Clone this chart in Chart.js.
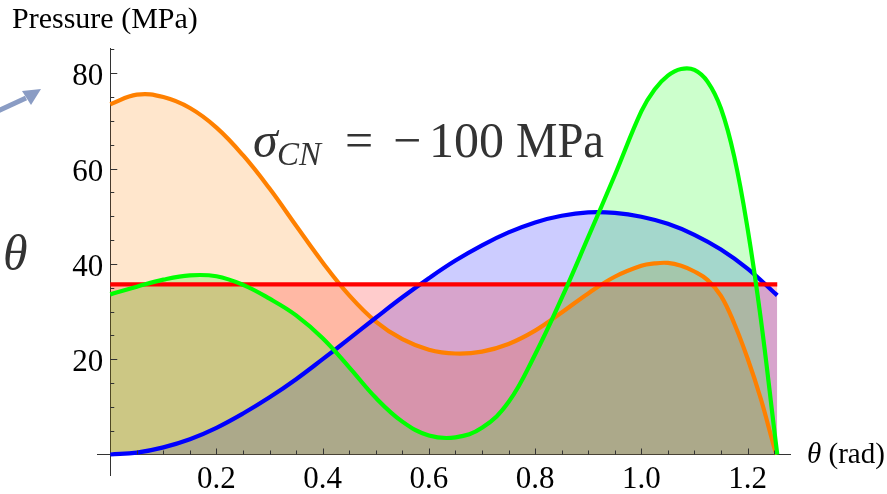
<!DOCTYPE html>
<html>
<head>
<meta charset="utf-8">
<script src="https://cdn.jsdelivr.net/npm/chart.js@4.4.1/dist/chart.umd.min.js"></script>
</head>
<body style="margin:0;background:#ffffff">
<canvas id="warm" width="10" height="10" style="position:absolute;left:-50px;top:-50px"></canvas>
<div style="width:887px;height:494px"><canvas id="chart" width="887" height="494"></canvas></div>
<script>
// Contact pressure around the interface versus angle (sigma_CN = -100 MPa)
const blueTheta = [0, 0.05, 0.1, 0.15, 0.2, 0.25, 0.3, 0.35, 0.4, 0.45, 0.5, 0.55, 0.6, 0.65, 0.7, 0.75, 0.8, 0.85, 0.9, 0.95, 1.0, 1.05, 1.1, 1.15, 1.2, 1.25, 1.256];
const blueVals  = [0, 0.4, 1.5, 3.2, 5.6, 8.6, 12.0, 15.8, 20.0, 24.3, 28.7, 33.0, 37.0, 40.7, 43.9, 46.6, 48.7, 50.1, 50.8, 50.7, 49.9, 48.4, 46.1, 43.0, 39.0, 34.0, 33.4];

const orangeTheta = [0, 0.05, 0.1, 0.15, 0.2, 0.25, 0.3, 0.35, 0.4, 0.45, 0.5, 0.55, 0.6, 0.65, 0.7, 0.75, 0.8, 0.85, 0.9, 0.95, 1.0, 1.025, 1.05, 1.075, 1.1, 1.125, 1.15, 1.175, 1.2, 1.225, 1.25, 1.255];
const orangeVals  = [73.5, 75.5, 75.0, 72.7, 68.6, 62.8, 55.8, 48.0, 40.3, 33.4, 27.9, 24.2, 22.0, 21.2, 21.6, 23.2, 26.0, 29.8, 33.8, 37.3, 39.6, 40.1, 40.2, 39.6, 38.4, 36.6, 33.3, 27.5, 20.2, 11.7, 1.6, 0];

const greenTheta = [0, 0.05, 0.1, 0.15, 0.2, 0.25, 0.3, 0.35, 0.4, 0.45, 0.5, 0.55, 0.6, 0.65, 0.7, 0.75, 0.8, 0.85, 0.9, 0.95, 1.0, 1.025, 1.05, 1.075, 1.1, 1.125, 1.15, 1.175, 1.2, 1.225, 1.25, 1.256];
const greenVals  = [33.6, 35.2, 36.7, 37.6, 37.4, 35.6, 32.7, 29.2, 24.4, 18.3, 11.9, 6.9, 4.0, 3.6, 5.6, 11.0, 21.0, 32.8, 45.6, 58.6, 72.0, 76.6, 79.5, 80.9, 80.7, 78.2, 72.6, 62.5, 47.5, 28.5, 5.5, 0];

const redTheta = [0, 1.256];
const redVals  = [35.7, 35.7];

const xTickVals = [0.2, 0.4, 0.6, 0.8, 1.0, 1.2];
const yTickVals = [20, 40, 60, 80];

const FAMILY = '"Liberation Serif", "Times New Roman", Tinos, serif';

// touch the faces once so they are resolved before the chart paints
(function () {
  const c = document.getElementById('warm').getContext('2d');
  ['', 'italic '].forEach(s => { c.font = s + '30px ' + FAMILY; c.fillText('Pa\u03B8\u03C3\u2212', 0, 8); });
})();

const toPoints = (xs, ys) => xs.map((x, i) => ({ x: x, y: ys[i] }));

function series(label, xs, ys, rgb) {
  return {
    label: label,
    data: toPoints(xs, ys),
    borderColor: 'rgb(' + rgb + ')',
    backgroundColor: 'rgba(' + rgb + ',0.2)',
    borderWidth: 4.2,
    pointRadius: 0,
    fill: 'origin',
    tension: 0.4,
    borderCapStyle: 'butt'
  };
}

// Inward ticks, tick labels placed from the scales, and the free-standing labels
const decorations = {
  id: 'decorations',
  afterDraw(chart) {
    const ctx = chart.ctx;
    const xs = chart.scales.x, ys = chart.scales.y;
    const x0 = xs.getPixelForValue(0), y0 = ys.getPixelForValue(0);
    ctx.save();
    ctx.strokeStyle = '#333';
    ctx.lineWidth = 1;
    ctx.beginPath();
    for (let k = 1; k <= 25; k++) {
      const px = Math.round(xs.getPixelForValue(k * 0.05)) + 0.5;
      const len = (k % 4 === 0) ? 6 : 4;
      ctx.moveTo(px, y0);
      ctx.lineTo(px, y0 - len);
    }
    for (let k = 1; k <= 17; k++) {
      const py = Math.round(ys.getPixelForValue(k * 5)) + 0.5;
      const len = (k % 4 === 0) ? 7 : 4;
      ctx.moveTo(x0, py);
      ctx.lineTo(x0 + len, py);
    }
    ctx.stroke();

    // tick labels
    ctx.fillStyle = '#000';
    ctx.textBaseline = 'alphabetic';
    ctx.font = '31px ' + FAMILY;
    ctx.textAlign = 'center';
    xTickVals.forEach(v => ctx.fillText(v.toFixed(1), xs.getPixelForValue(v), y0 + 33));
    ctx.textAlign = 'right';
    yTickVals.forEach(v => ctx.fillText(String(v), x0 - 7, ys.getPixelForValue(v) + 12));

    // axis titles
    ctx.textAlign = 'left';
    ctx.font = '30px ' + FAMILY;
    ctx.fillText('Pressure (MPa)', 12, 28);
    ctx.font = 'italic 29px ' + FAMILY;
    ctx.fillText('\u03B8', 807, 463);
    const w = ctx.measureText('\u03B8').width;
    ctx.font = '29px ' + FAMILY;
    ctx.fillText(' (rad)', 807 + w, 463);

    // loading annotation
    ctx.fillStyle = '#333';
    ctx.font = 'italic 50px ' + FAMILY;
    ctx.fillText('\u03C3', 253, 157);
    ctx.font = 'italic 33px ' + FAMILY;
    ctx.fillText('CN', 277, 165);
    ctx.font = '50px ' + FAMILY;
    ctx.fillText('=', 345, 157);
    ctx.fillText('\u2212', 393, 157, 30);
    ctx.fillText('100', 429, 157, 78);
    ctx.fillText('MPa', 516, 157, 88);

    // left-hand angle symbol and arrow
    ctx.font = 'italic 50px ' + FAMILY;
    ctx.fillText('\u03B8', 3, 270);
    ctx.strokeStyle = '#8a9cc4';
    ctx.fillStyle = '#8a9cc4';
    ctx.lineWidth = 5;
    ctx.beginPath();
    ctx.moveTo(-2, 111);
    ctx.lineTo(26, 98);
    ctx.stroke();
    ctx.beginPath();
    ctx.moveTo(41, 89);
    ctx.lineTo(22, 91);
    ctx.lineTo(31, 105);
    ctx.closePath();
    ctx.fill();
    ctx.restore();
  }
};

Chart.defaults.font.family = FAMILY;

new Chart(document.getElementById('chart'), {
  type: 'line',
  data: {
    datasets: [
      series('green', greenTheta, greenVals, '0,255,0'),
      series('red', redTheta, redVals, '255,0,0'),
      series('blue', blueTheta, blueVals, '0,0,255'),
      series('orange', orangeTheta, orangeVals, '255,128,0')
    ]
  },
  options: {
    responsive: false,
    animation: false,
    layout: { padding: { left: 97, right: 97, top: 48, bottom: 19 } },
    plugins: {
      legend: { display: false },
      tooltip: { enabled: false },
      filler: { drawTime: 'beforeDatasetsDraw' }
    },
    scales: {
      x: {
        type: 'linear',
        min: -0.025,
        max: 1.28,
        position: { y: 0 },
        grid: { display: false, drawTicks: false },
        border: { display: true, color: '#333', width: 1 },
        afterBuildTicks: (scale) => { scale.ticks = xTickVals.map(v => ({ value: v })); },
        ticks: { display: false }
      },
      y: {
        type: 'linear',
        min: -4.3,
        max: 85.3,
        position: { x: 0 },
        grid: { display: false, drawTicks: false },
        border: { display: true, color: '#333', width: 1 },
        afterBuildTicks: (scale) => { scale.ticks = yTickVals.map(v => ({ value: v })); },
        ticks: { display: false }
      }
    }
  },
  plugins: [decorations]
});
</script>
</body>
</html>
